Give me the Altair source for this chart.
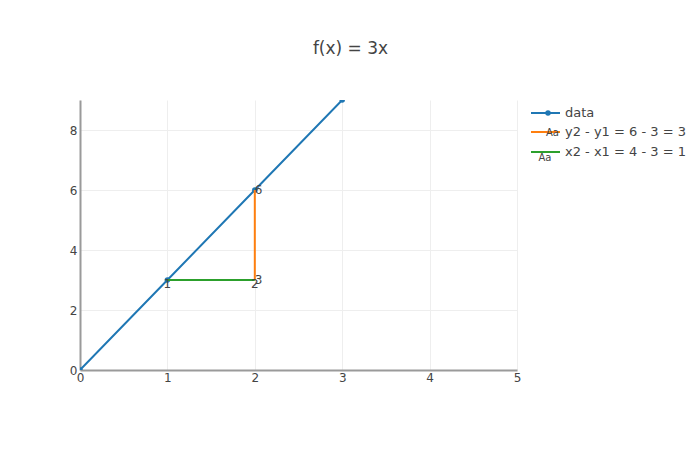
import altair as alt
import pandas as pd

# ---- data ----
title_text = "f(x) = 3x"
data_x = [0, 1, 2, 3]
data_y = [0, 3, 6, 9]
dy_x = [2, 2]
dy_y = [3, 6]
dy_text = ["3", "6"]
dx_x = [1, 2]
dx_y = [3, 3]
dx_text = ["1", "2"]
legend_labels = ["data", "y2 - y1 = 6 - 3 = 3", "x2 - x1 = 4 - 3 = 1"]
colors = ["#1f77b4", "#ff7f0e", "#2ca02c"]
x_ticks = [0, 1, 2, 3, 4, 5]
y_ticks = [0, 2, 4, 6, 8]

FONT = "DejaVu Sans"
TXT = "#444444"

df_data = pd.DataFrame({"x": data_x, "y": data_y})
df_dy = pd.DataFrame({"x": dy_x, "y": dy_y, "t": dy_text})
df_dx = pd.DataFrame({"x": dx_x, "y": dx_y, "t": dx_text})
one = pd.DataFrame({"a": [0]})

xs = alt.Scale(domain=[0, 5], nice=False, zero=False)
ys = alt.Scale(domain=[0, 9], nice=False, zero=False)
xax = alt.Axis(values=x_ticks, title=None, grid=True, ticks=False, labelPadding=2, labelFlush=False,
               domainColor="#9a9a9a", domainWidth=2, gridColor="#eeeeee",
               labelColor=TXT, labelFontSize=12, labelFont=FONT, format="d")
yax = alt.Axis(values=y_ticks, title=None, grid=True, ticks=False, labelPadding=3, labelFlush=False,
               domainColor="#9a9a9a", domainWidth=2, gridColor="#eeeeee",
               labelColor=TXT, labelFontSize=12, labelFont=FONT, format="d")

X = lambda: alt.X("x:Q", scale=xs, axis=xax)
Y = lambda: alt.Y("y:Q", scale=ys, axis=yax)

line_data = alt.Chart(df_data).mark_line(color=colors[0], strokeWidth=2, clip=True).encode(x=X(), y=Y())
pts_data = alt.Chart(df_data).mark_point(color=colors[0], filled=True, opacity=1, size=30, shape="circle", clip=True).encode(x=X(), y=Y())

line_dx = alt.Chart(df_dx).mark_line(color=colors[2], strokeWidth=2).encode(x=X(), y=Y())
txt_dx = alt.Chart(df_dx).mark_text(color=TXT, font=FONT, fontSize=12, align="center", baseline="top", dy=-1).encode(x=X(), y=Y(), text="t:N")

line_dy = alt.Chart(df_dy).mark_line(color=colors[1], strokeWidth=2).encode(x=X(), y=Y())
txt_dy = alt.Chart(df_dy).mark_text(color=TXT, font=FONT, fontSize=12, align="left", baseline="middle", dx=0).encode(x=X(), y=Y(), text="t:N")

# ---- legend (drawn manually, plotly-like) ----
leg_y = [13, 32, 52]
legend_layers = []
for i, lab in enumerate(legend_labels):
    legend_layers.append(alt.Chart(one).mark_rule(color=colors[i], strokeWidth=2).encode(
        x=alt.value(451), x2=alt.value(480), y=alt.value(leg_y[i])))
    legend_layers.append(alt.Chart(one).mark_text(text=lab, color=TXT, font=FONT, fontSize=13,
                                                  align="left", baseline="middle").encode(
        x=alt.value(485), y=alt.value(leg_y[i])))
legend_layers.append(alt.Chart(one).mark_point(color=colors[0], filled=True, opacity=1, size=30, shape="circle").encode(
    x=alt.value(468), y=alt.value(leg_y[0])))
legend_layers.append(alt.Chart(one).mark_text(text="Aa", color=TXT, font=FONT, fontSize=10, align="left", baseline="middle").encode(
    x=alt.value(466), y=alt.value(leg_y[1] + 1)))
legend_layers.append(alt.Chart(one).mark_text(text="Aa", color=TXT, font=FONT, fontSize=10, align="center", baseline="top").encode(
    x=alt.value(465), y=alt.value(leg_y[2] + 1)))

chart = alt.layer(line_data, pts_data, line_dx, line_dy, txt_dx, txt_dy, *legend_layers).properties(
    width=437, height=270,
    title=alt.TitleParams(title_text, fontSize=17, font=FONT, fontWeight="normal", color=TXT,
                          anchor="middle", dx=52, offset=34, baseline="middle"),
    padding={"left": 72, "top": 92, "right": 175, "bottom": 72},
    autosize=alt.AutoSizeParams(type="none"),
).configure_view(stroke=None)

chart.save("out.html", embed_options={"renderer": "svg", "actions": False})
